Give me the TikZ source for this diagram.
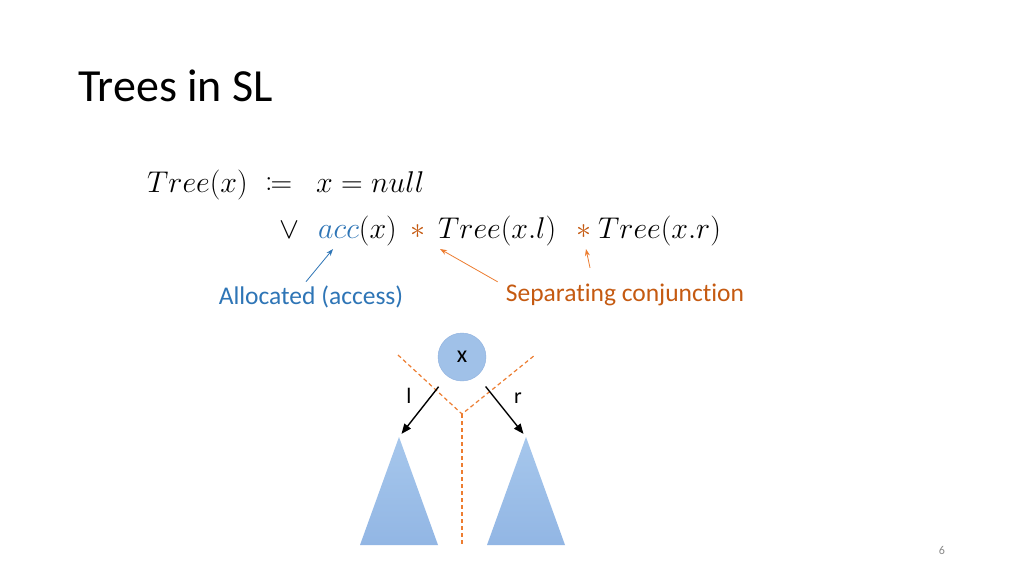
\RequirePackage{fix-cm}
\documentclass[tikz,border=0pt]{standalone}
\usepackage{mathtools}
\usepackage{fontspec}
\setmainfont{Carlito}[Ligatures=NoCommon]
\usetikzlibrary{arrows.meta}
\definecolor{SlideBlue}{RGB}{46, 117, 182}
\definecolor{SlideOrange}{RGB}{197, 90, 17}
\definecolor{CutOrange}{RGB}{237, 125, 49}
\definecolor{NodeBlue}{RGB}{160, 193, 232}
\definecolor{NodeEdge}{RGB}{143, 177, 222}
\definecolor{TriTop}{RGB}{166, 199, 236}
\definecolor{TriBot}{RGB}{146, 182, 228}
\definecolor{PageGray}{RGB}{137, 137, 137}
\begin{document}
\begin{tikzpicture}[x=1pt, y=-1pt, mth/.style={anchor=base west, inner sep=0pt, font=\fontsize{30}{36}\selectfont},
  lbl/.style={inner sep=0pt, font=\fontsize{25.5}{30}\selectfont}, ptr/.style={-{Stealth[length=7pt, width=5pt]}, line width=0.8pt},
  edgearr/.style={-{Triangle[length=10pt, width=8pt]}, line width=1.4pt, shorten <=13.6pt, shorten >=4pt},
  cut/.style={CutOrange, dash pattern=on 4pt off 3pt, line width=1.2pt}, sub/.style={top color=TriTop, bottom color=TriBot}]
\useasboundingbox (0,0) rectangle (1024,576);
\fill[white] (0,0) rectangle (1024,576);
\node[anchor=base west, inner sep=0pt, font=\fontsize{46}{56}\selectfont] (title) at (78,101) {Trees in SL};
\node[mth] (lhs) at (147,192) {$Tree(x)$};
\node[mth] (defeq) at (265,192) {$\coloneqq$};
\node[mth] (null) at (316,192) {$x = null$};
\node[mth] (vee) at (279,238) {$\vee$};
\node[mth] (acc) at (318,238) {$\textcolor{SlideBlue}{acc}(x)$};
\node[mth] (sep1) at (410,238) {\textcolor{SlideOrange}{$\ast$}};
\node[mth] (subl) at (438,238) {$Tree(x.l)$};
\node[mth] (sep2) at (576,238) {\textcolor{SlideOrange}{$\ast$}};
\node[mth] (subr) at (598,238) {$Tree(x.r)$};
\node[lbl, text=SlideBlue] (alloc) at (311,297) {Allocated (access)};
\node[lbl, text=SlideOrange] (sepconj) at (625,295) {Separating conjunction};
\coordinate (accTip) at (333,249); \coordinate (sepTip1) at (440,249); \coordinate (sepTip2) at (586,249);
\draw[ptr, SlideBlue] ([xshift=-5pt, yshift=4pt]alloc.north) -- (accTip);
\draw[ptr, CutOrange] ([xshift=-8pt, yshift=2pt]sepconj.north west) -- (sepTip1);
\draw[ptr, CutOrange] ([xshift=-35pt, yshift=16pt]sepconj.north) -- (sepTip2);
\coordinate (ltop) at (399,437); \coordinate (rtop) at (526,437);
\shade[sub] (ltop) -- ++(39,108) -- ++(-78,0) -- cycle;
\shade[sub] (rtop) -- ++(39,108) -- ++(-78,0) -- cycle;
\coordinate (fork) at (462,414); \coordinate (cutl) at (398,355); \coordinate (cutr) at (535,355); \coordinate (cutb) at (462,545);
\draw[cut] (cutl) -- (fork) -- (cutr); \draw[cut] (fork) -- (cutb);
\node[circle, minimum size=48pt, inner sep=0pt, fill=NodeBlue, draw=NodeEdge, font=\fontsize{24}{28}\selectfont] (x) at (462,357) {x};
\draw[edgearr] (x) -- (ltop); \draw[edgearr] (x) -- (rtop);
\node[font=\fontsize{22}{26}\selectfont, inner sep=0pt] (lname) at (409,396) {l};
\node[font=\fontsize{22}{26}\selectfont, inner sep=0pt] (rname) at (518,398) {r};
\node[font=\fontsize{12}{14}\selectfont, text=PageGray, inner sep=0pt] (page) at (942,550) {6};
\end{tikzpicture}
\end{document}
